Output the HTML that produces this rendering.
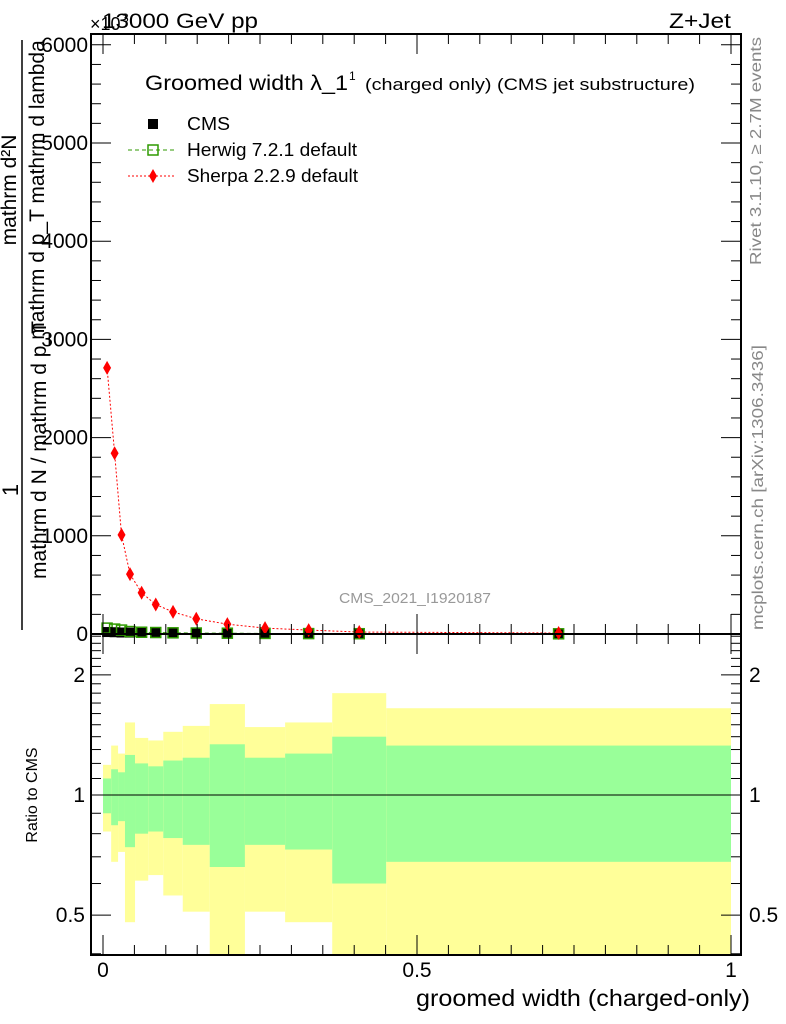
<!DOCTYPE html>
<html><head><meta charset="utf-8">
<style>
body{margin:0;background:#fff;}
svg{display:block;font-family:"Liberation Sans",sans-serif;}
</style></head>
<body>
<svg id="c" width="786" height="1024" viewBox="0 0 786 1024" xmlns="http://www.w3.org/2000/svg">
<g id="bands"></g>
<g id="marks"></g>
<g id="axes"></g>
<text x="102" y="28" font-size="21" textLength="156" lengthAdjust="spacingAndGlyphs">13000 GeV pp</text>
<text x="90" y="30" font-size="18">×10</text>
<text x="122" y="22" font-size="12">3</text>
<text x="669" y="28" font-size="21" textLength="62" lengthAdjust="spacingAndGlyphs">Z+Jet</text>
<text x="145" y="90" font-size="21" textLength="203" lengthAdjust="spacingAndGlyphs">Groomed width λ_1</text>
<text x="349" y="80" font-size="12">1</text>
<text x="365" y="90" font-size="17" textLength="330" lengthAdjust="spacingAndGlyphs">(charged only) (CMS jet substructure)</text>
<g>
<rect x="148" y="119" width="10" height="10" fill="#000"/>
<text x="187" y="130" font-size="18" textLength="43" lengthAdjust="spacingAndGlyphs">CMS</text>
<line x1="128" y1="150" x2="175" y2="150" stroke="#2f9a00" stroke-dasharray="4,3"/>
<rect x="148" y="145" width="10" height="10" fill="none" stroke="#2f9a00" stroke-width="1.5"/>
<text x="187" y="156" font-size="18" textLength="170" lengthAdjust="spacingAndGlyphs">Herwig 7.2.1 default</text>
<line x1="128" y1="176" x2="175" y2="176" stroke="#f00" stroke-dasharray="2,2"/>
<polygon points="153,169 157,176 153,183 149,176" fill="#f00"/>
<text x="187" y="182" font-size="18" textLength="171" lengthAdjust="spacingAndGlyphs">Sherpa 2.2.9 default</text>
</g>
<text x="339" y="603" font-size="15" fill="#999" textLength="152" lengthAdjust="spacingAndGlyphs">CMS_2021_I1920187</text>
<text transform="translate(761,265) rotate(-90)" font-size="16" fill="#888" textLength="228" lengthAdjust="spacingAndGlyphs">Rivet 3.1.10, ≥ 2.7M events</text>
<text transform="translate(763,630) rotate(-90)" font-size="16" fill="#888" textLength="285" lengthAdjust="spacingAndGlyphs">mcplots.cern.ch [arXiv:1306.3436]</text>
<g>
<text transform="translate(18,490) rotate(-90)" font-size="22" text-anchor="middle">1</text>
<line x1="22" y1="40" x2="22" y2="630" stroke="#000" stroke-width="1.5"/>
<text transform="translate(16,190) rotate(-90)" font-size="21" text-anchor="middle">mathrm d²N</text>
<text transform="translate(44,190) rotate(-90)" font-size="21" text-anchor="middle">mathrm d p_T mathrm d lambda</text>
<text transform="translate(46,450) rotate(-90)" font-size="21" text-anchor="middle">mathrm d N / mathrm d p_T</text>
</g>
<text transform="translate(37,795) rotate(-90)" font-size="16" text-anchor="middle">Ratio to CMS</text>
<text x="416" y="1006" font-size="23" textLength="334" lengthAdjust="spacingAndGlyphs">groomed width (charged-only)</text>
</svg>
<script>
const edges=[0,0.013,0.024,0.035,0.051,0.072,0.096,0.127,0.170,0.226,0.290,0.365,0.451,1.0];
const sherpa=[2710,1840,1010,610,420,300,225,155,100,60,40,20,10];
const herwig=[60,50,40,25,18,15,12,10,8,6,4,3,2];
const cms=[20,18,15,14,13,12,11,10,8,6,4,3,2];
const ylo=[0.81,0.68,0.72,0.48,0.61,0.63,0.56,0.51,0.3,0.51,0.48,0.3,0.3];
const glo=[0.90,0.84,0.86,0.74,0.80,0.81,0.78,0.75,0.66,0.75,0.73,0.60,0.68];
const ghi=[1.10,1.16,1.14,1.26,1.20,1.18,1.22,1.24,1.34,1.24,1.27,1.40,1.33];
const yhi=[1.19,1.33,1.27,1.52,1.39,1.37,1.44,1.49,1.69,1.48,1.52,1.80,1.65];
const mainTicks=[0,1000,2000,3000,4000,5000,6000];
const ratioTicks=[0.5,1,2];
const xTicks=[0,0.5,1];
const NS="http://www.w3.org/2000/svg";
const L=91,R=741,T=34,MB=634,RB=955;
const X=v=>103+v*628;
const Y=v=>634-v*0.0982;
const RY=v=>795-Math.log10(v)*399;
function mk(p,tag,at){const e=document.createElementNS(NS,tag);for(const k in at)e.setAttribute(k,at[k]);p.appendChild(e);return e;}
const bands=document.getElementById('bands'),marks=document.getElementById('marks'),axes=document.getElementById('axes');
const clampR=v=>Math.min(RB,Math.max(MB,RY(v)));
for(let i=0;i<sherpa.length;i++){
  const x0=X(edges[i]),x1=X(edges[i+1]);
  let r=mk(bands,'rect',{x:x0,y:clampR(yhi[i]),width:x1-x0,height:clampR(ylo[i])-clampR(yhi[i]),fill:'#ffff99'});
  
  
  r=mk(bands,'rect',{x:x0,y:clampR(ghi[i]),width:x1-x0,height:clampR(glo[i])-clampR(ghi[i]),fill:'#99ff99'});
  
  
}
let ln=mk(bands,'line',{x1:L,x2:R,y1:RY(1),y2:RY(1),stroke:'#000','stroke-width':1});


let hp='';
for(let i=0;i<herwig.length;i++){const xc=X((edges[i]+edges[i+1])/2);hp+=(i?'L':'M')+xc+','+Y(herwig[i]);}
let p=mk(marks,'path',{d:hp,fill:'none',stroke:'#2f9a00','stroke-dasharray':'4,3'});


let sp='';
for(let i=0;i<sherpa.length;i++){const xc=X((edges[i]+edges[i+1])/2);sp+=(i?'L':'M')+xc+','+Y(sherpa[i]);}
p=mk(marks,'path',{d:sp,fill:'none',stroke:'#f00','stroke-dasharray':'2,2'});


for(let i=0;i<cms.length;i++){
  const xc=X((edges[i]+edges[i+1])/2);
  let e=mk(marks,'rect',{x:xc-5,y:Y(cms[i])-5,width:10,height:10,fill:'#000'});
  
  
  e=mk(marks,'rect',{x:xc-5,y:Y(herwig[i])-5,width:10,height:10,fill:'none',stroke:'#2f9a00','stroke-width':1.5});
  
  
  const y=Y(sherpa[i]);
  e=mk(marks,'polygon',{points:`${xc},${y-7} ${xc+4},${y} ${xc},${y+7} ${xc-4},${y}`,fill:'#f00'});
  
  
}
let f=mk(axes,'rect',{x:L,y:T,width:R-L,height:MB-T,fill:'none',stroke:'#000','stroke-width':2});


f=mk(axes,'rect',{x:L,y:MB,width:R-L,height:RB-MB,fill:'none',stroke:'#000','stroke-width':2});


for(let v=0;v<=6000;v+=200){const y=Y(v);const big=v%1000===0;
  mk(axes,'line',{x1:L,x2:L+(big?20:10),y1:y,y2:y,stroke:'#000'});
  mk(axes,'line',{x1:R,x2:R-(big?20:10),y1:y,y2:y,stroke:'#000'});}
for(const v of mainTicks){const t=mk(axes,'text',{x:L-3,y:Y(v)+7,'font-size':21,'text-anchor':'end'});t.textContent=v;
  
  }
const minor=[0.4,0.5,0.6,0.7,0.8,0.9,1,1.1,1.2,1.3,1.4,1.5,1.6,1.7,1.8,1.9,2,2.1,2.2,2.3,2.4,2.5];
for(const v of minor){const y=RY(v);if(y<MB||y>RB)continue;const big=ratioTicks.includes(v);
  mk(axes,'line',{x1:L,x2:L+(big?20:10),y1:y,y2:y,stroke:'#000'});
  mk(axes,'line',{x1:R,x2:R-(big?20:10),y1:y,y2:y,stroke:'#000'});}
for(const v of ratioTicks){let t=mk(axes,'text',{x:L-6,y:RY(v)+7,'font-size':21,'text-anchor':'end'});t.textContent=v;
  
  
  t=mk(axes,'text',{x:R+8,y:RY(v)+7,'font-size':21});t.textContent=v;
  
  }
for(let v=0;v<=1.0001;v+=0.05){const x=X(v);const big=Math.abs(v*2-Math.round(v*2))<1e-6;
  for(const [yb,dir] of [[MB,-1],[T,1],[RB,-1]]){mk(axes,'line',{x1:x,x2:x,y1:yb,y2:yb+dir*(big?20:10),stroke:'#000'});}
  mk(axes,'line',{x1:x,x2:x,y1:MB,y2:MB+(big?20:10),stroke:'#000'});}
for(const v of xTicks){const t=mk(axes,'text',{x:X(v),y:977,'font-size':21,'text-anchor':'middle'});t.textContent=v;
  
  }
</script>
</body></html>
